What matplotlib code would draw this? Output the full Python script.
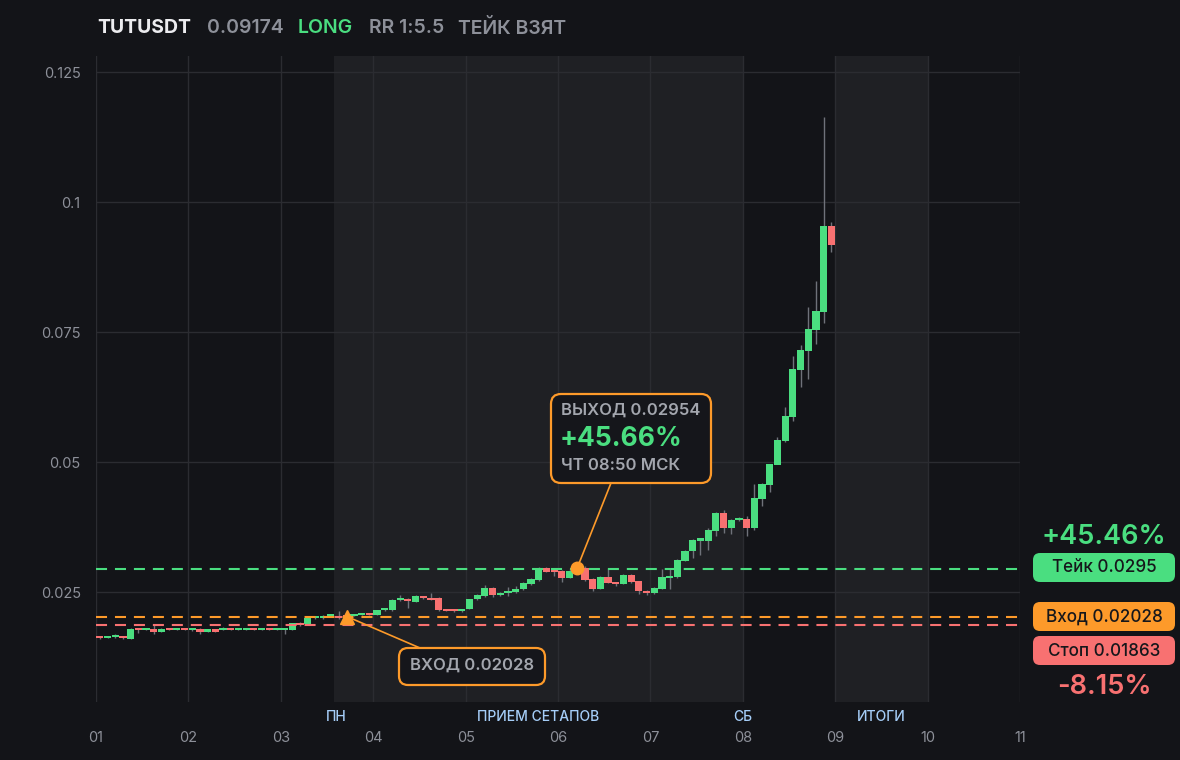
import numpy as np
import matplotlib
matplotlib.use('Agg')
import matplotlib.pyplot as plt
from matplotlib.patches import FancyBboxPatch

plt.rcParams['font.family'] = ['Inter', 'DejaVu Sans']

# candles (2h), starting at day 01
opens = [0.01635, 0.0162, 0.0163, 0.01655, 0.0160, 0.0179, 0.0177, 0.0179, 0.0174, 0.0179,
         0.0177, 0.0179, 0.0176, 0.0179, 0.0174, 0.0176, 0.0177, 0.0179, 0.0177, 0.0177,
         0.0179, 0.0177, 0.0179, 0.0177, 0.0177, 0.0177, 0.0190, 0.0189, 0.0200, 0.0200,
         0.0203, 0.0204, 0.0204, 0.0204, 0.0206, 0.0208, 0.0206, 0.0215, 0.0215, 0.0234,
         0.0236, 0.0231, 0.0242, 0.0238, 0.0239, 0.0217, 0.0217, 0.0213, 0.0218, 0.0236,
         0.0242, 0.0258, 0.0244, 0.0248, 0.0250, 0.0255, 0.0265, 0.0273, 0.0296, 0.0292,
         0.0290, 0.0277, 0.0292, 0.0296, 0.0275, 0.0256, 0.0279, 0.0268, 0.0266, 0.0283,
         0.0271, 0.0252, 0.0248, 0.0256, 0.0277, 0.0278, 0.0310, 0.0328, 0.0349, 0.0348,
         0.0367, 0.0402, 0.0373, 0.0388, 0.0391, 0.0374, 0.0429, 0.0456, 0.0494, 0.0541,
         0.0587, 0.0677, 0.0713, 0.0754, 0.0789, 0.0954]
closes = [0.0162, 0.0163, 0.01655, 0.0161, 0.0179, 0.0177, 0.0179, 0.0174, 0.0179, 0.0177,
          0.0179, 0.0177, 0.0179, 0.0174, 0.0176, 0.0174, 0.0179, 0.0177, 0.0179, 0.0179,
          0.0177, 0.0179, 0.0177, 0.0179, 0.0179, 0.0190, 0.0187, 0.0200, 0.0203, 0.0204,
          0.0204, 0.0200, 0.0202, 0.0206, 0.0208, 0.0206, 0.0215, 0.0217, 0.0235, 0.0236,
          0.0232, 0.0242, 0.0238, 0.0235, 0.0215, 0.0214, 0.0213, 0.0217, 0.0236, 0.0244,
          0.0258, 0.0244, 0.0248, 0.0251, 0.0256, 0.0267, 0.0275, 0.0296, 0.0289, 0.0288,
          0.0277, 0.0290, 0.0295, 0.0274, 0.0256, 0.0279, 0.0268, 0.0266, 0.0283, 0.0269,
          0.0252, 0.0248, 0.0258, 0.0279, 0.0279, 0.0312, 0.0329, 0.0350, 0.0350, 0.0369,
          0.0402, 0.0373, 0.0388, 0.0391, 0.0374, 0.0430, 0.0458, 0.0496, 0.0542, 0.0589,
          0.0679, 0.0715, 0.0756, 0.0790, 0.0954, 0.0918]
highs = [0.0166, 0.0165, 0.0169, 0.0166, 0.0180, 0.0180, 0.0180, 0.01885, 0.0180, 0.0180,
         0.0180, 0.0180, 0.0180, 0.0180, 0.0177, 0.0177, 0.0183, 0.0180, 0.0180, 0.0180,
         0.0180, 0.0180, 0.0180, 0.0180, 0.0180, 0.0191, 0.0192, 0.0201, 0.0204, 0.0206,
         0.0205, 0.0214, 0.0206, 0.0207, 0.0210, 0.0210, 0.0216, 0.0219, 0.0236, 0.0244,
         0.0238, 0.0244, 0.0243, 0.0248, 0.0240, 0.0218, 0.0218, 0.0218, 0.0237, 0.0246,
         0.0264, 0.0259, 0.0250, 0.0260, 0.0262, 0.0269, 0.0277, 0.0299, 0.0299, 0.0294,
         0.0292, 0.0294, 0.0296, 0.0300, 0.0277, 0.0281, 0.0295, 0.0270, 0.0285, 0.0284,
         0.0272, 0.0254, 0.0260, 0.0294, 0.0296, 0.0313, 0.0330, 0.0352, 0.0353, 0.0373,
         0.0404, 0.0408, 0.0390, 0.0394, 0.0396, 0.0458, 0.0459, 0.0497, 0.0549, 0.0606,
         0.0704, 0.0725, 0.0798, 0.0848, 0.1163, 0.0961]
lows = [0.0160, 0.0161, 0.0162, 0.0159, 0.0159, 0.01717, 0.0176, 0.0169, 0.0173, 0.0176,
        0.0176, 0.0176, 0.0175, 0.0170, 0.0173, 0.0173, 0.0176, 0.0176, 0.0176, 0.0176,
        0.0176, 0.0176, 0.0176, 0.0176, 0.0170, 0.0176, 0.0185, 0.0188, 0.0199, 0.0199,
        0.0202, 0.0199, 0.0201, 0.0203, 0.0205, 0.0205, 0.0205, 0.0214, 0.0214, 0.0233,
        0.0220, 0.0230, 0.0237, 0.0234, 0.0214, 0.0213, 0.0211, 0.0211, 0.0217, 0.0235,
        0.0241, 0.0240, 0.0242, 0.0242, 0.0249, 0.0253, 0.0264, 0.0272, 0.0288, 0.0281,
        0.0269, 0.0276, 0.0291, 0.0272, 0.0252, 0.0255, 0.0267, 0.0262, 0.0265, 0.0268,
        0.0247, 0.0244, 0.0247, 0.0255, 0.0256, 0.0277, 0.0309, 0.0315, 0.0322, 0.0331,
        0.0358, 0.0364, 0.0361, 0.0387, 0.0358, 0.0369, 0.0416, 0.0443, 0.0517, 0.0539,
        0.0578, 0.0645, 0.0660, 0.0727, 0.0767, 0.0904]

day_ticks = [1, 2, 3, 4, 5, 6, 7, 8, 9, 10, 11]
day_labels = ['01', '02', '03', '04', '05', '06', '07', '08', '09', '10', '11']
y_ticks = [0.025, 0.05, 0.075, 0.1, 0.125]
y_labels = ['0.025', '0.05', '0.075', '0.1', '0.125']
sessions = [(3.58, 8.0), (9.0, 10.0)]
session_names = ['ПН', 'ПРИЕМ СЕТАПОВ', 'СБ', 'ИТОГИ']
session_pos = [3.6, 5.79, 8.0, 9.5]

take, entry, stop = 0.0295, 0.02028, 0.01863
exit_price = 0.02954
entry_time, exit_time = 3.716, 6.206

BG = '#131418'
SHADE = '#1f2024'
GRID = '#2b2c31'
GREEN = '#4ade80'
RED = '#f87171'
ORANGE = '#fd9a2a'
GREY = '#8d9099'

fig = plt.figure(figsize=(11.8, 7.6), dpi=100, facecolor=BG)
ax = fig.add_axes([96 / 1180, 58 / 760, 924 / 1180, 646 / 760])
ax.set_facecolor(BG)
ax.set_xlim(1, 11)
ax.set_ylim(0.025 - 110 / 5200, 0.025 + 536 / 5200)

for a, b in sessions:
    ax.axvspan(a, b, color=SHADE, zorder=0, lw=0)

ax.set_xticks(day_ticks)
ax.set_xticklabels(day_labels)
ax.set_yticks(y_ticks)
ax.set_yticklabels(y_labels)
ax.grid(True, color=GRID, lw=1)
ax.set_axisbelow(True)
ax.tick_params(colors=GREY, labelsize=10.5, length=0, pad=28)
ax.tick_params(axis='x', pad=21)
ax.tick_params(axis='y', pad=11)
for s in ax.spines.values():
    s.set_visible(False)

for name, xp in zip(session_names, session_pos):
    ax.text(xp, -0.023, name, transform=ax.get_xaxis_transform(), ha='center', va='center',
            color='#a5cdf7', fontsize=10, fontweight='medium')

# candles
t = 1 + (np.arange(len(opens)) + 0.5) / 12
o = np.array(opens)
c = np.array(closes)
cols = [GREEN if cc >= oo else RED for oo, cc in zip(o, c)]
ax.vlines(t, lows, highs, color='#6f727a', lw=1, zorder=2)
bottom = np.minimum(o, c)
height = np.maximum(np.abs(c - o), 0.0004)
ax.bar(t, height, bottom=bottom, width=0.078, color=cols, zorder=3, lw=0)

# level lines
for lvl, col in [(take, GREEN), (entry, ORANGE), (stop, RED)]:
    ax.axhline(lvl, color=col, lw=1.5, dashes=(5.3, 3.8), zorder=4)

ax.plot([entry_time], [entry], marker='^', ms=10, color=ORANGE, zorder=6, lw=0)
ax.plot([exit_time], [exit_price], marker='o', ms=9, color=ORANGE, zorder=6, lw=0)

# overlay in pixel coords
ov = fig.add_axes([0, 0, 1, 1], facecolor='none')
ov.set_xlim(0, 1180)
ov.set_ylim(760, 0)
ov.axis('off')


def px(xd, yd):
    X, Y = ax.transData.transform((xd, yd))
    return X, 760 - Y


def rbox(x0, y0, x1, y1, fc, ec=None, r=8, lw=0):
    p = FancyBboxPatch((x0, y0), x1 - x0, y1 - y0,
                       boxstyle=f'round,pad=0,rounding_size={r}',
                       fc=fc, ec=ec if ec else 'none', lw=lw, zorder=5)
    ov.add_patch(p)


# exit callout
ex, ey = px(exit_time, exit_price)
ov.plot([ex, 611], [ey, 483], color=ORANGE, lw=1.2, zorder=4)
rbox(551, 394, 711, 483, fc='#15161b', ec=ORANGE, r=10, lw=1.6)
ov.text(561, 410, 'ВЫХОД 0.02954', color='#a3a6ae', fontsize=12, fontweight='semibold',
        va='center', ha='left', zorder=6)
ov.text(560, 439, '+45.66%', color=GREEN, fontsize=19, fontweight='bold',
        va='center', ha='left', zorder=6)
ov.text(561, 465, 'ЧТ 08:50 МСК', color='#a3a6ae', fontsize=12, fontweight='semibold',
        va='center', ha='left', zorder=6)

# entry callout
nx, ny = px(entry_time, entry)
ov.plot([nx, 420], [ny, 648], color=ORANGE, lw=1.2, zorder=4)
rbox(399, 648, 545, 685, fc='#15161b', ec=ORANGE, r=9, lw=1.6)
ov.text(472, 665, 'ВХОД 0.02028', color='#a3a6ae', fontsize=12, fontweight='semibold',
        va='center', ha='center', zorder=6)

# right side labels
ov.text(1104, 537, '+45.46%', color=GREEN, fontsize=19.5, fontweight='semibold',
        ha='center', va='center')
rbox(1033, 553, 1175, 582, fc=GREEN, r=7)
ov.text(1104, 568, 'Тейк 0.0295', color='#16171b', fontsize=12.3, fontweight='medium',
        ha='center', va='center', zorder=6)
rbox(1033, 602, 1175, 631, fc=ORANGE, r=7)
ov.text(1104, 617, 'Вход 0.02028', color='#16171b', fontsize=12.3, fontweight='medium',
        ha='center', va='center', zorder=6)
rbox(1033, 636, 1175, 665, fc=RED, r=7)
ov.text(1104, 651, 'Стоп 0.01863', color='#16171b', fontsize=12.3, fontweight='medium',
        ha='center', va='center', zorder=6)
ov.text(1104, 687, '-8.15%', color=RED, fontsize=19.5, fontweight='semibold',
        ha='center', va='center')

# header
ov.text(97, 28, 'TUTUSDT', color='#ececef', fontsize=14, fontweight='bold', va='center')
ov.text(207, 28, '0.09174', color=GREY, fontsize=14, fontweight='semibold', va='center')
ov.text(298, 28, 'LONG', color=GREEN, fontsize=14, fontweight='semibold', va='center')
ov.text(369, 28, 'RR 1:5.5', color=GREY, fontsize=14, fontweight='semibold', va='center')
ov.text(458, 28, 'ТЕЙК ВЗЯТ', color=GREY, fontsize=14, fontweight='semibold', va='center')

fig.savefig('out.png', dpi=100, facecolor=BG)
